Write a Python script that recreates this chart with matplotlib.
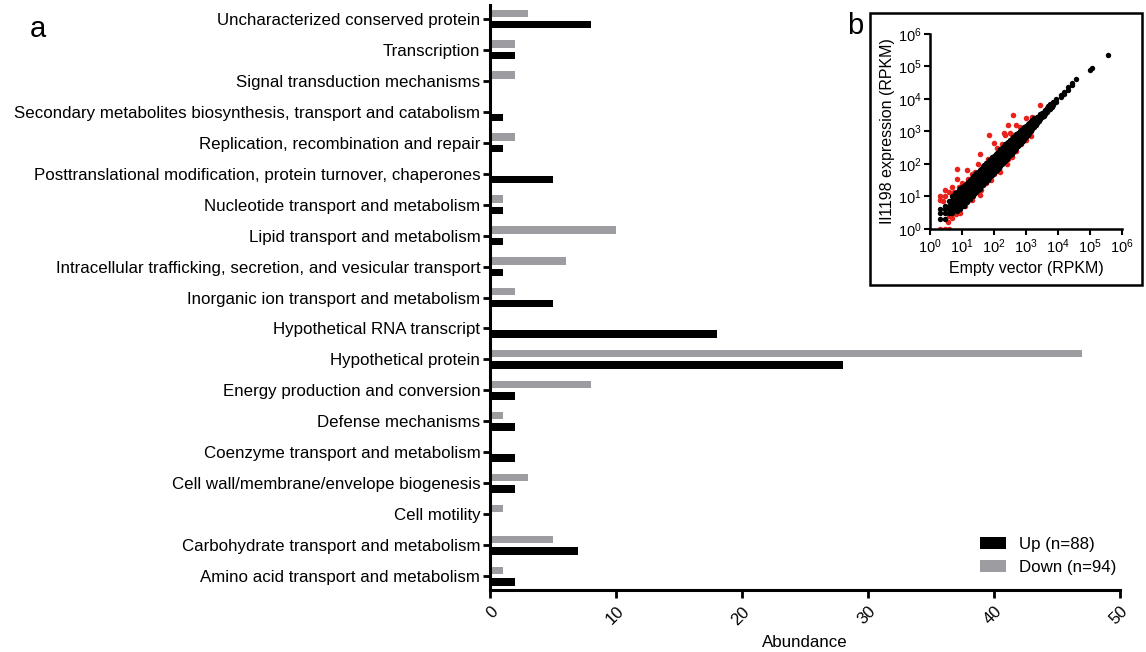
import numpy as np
import matplotlib
matplotlib.use("Agg")
import matplotlib.pyplot as plt
from matplotlib.patches import Rectangle
from matplotlib.ticker import LogLocator, NullLocator

plt.rcParams['font.family'] = ['Liberation Sans', 'DejaVu Sans']
plt.rcParams['mathtext.fontset'] = 'custom'
plt.rcParams['mathtext.rm'] = 'Liberation Sans'

# categories, bottom to top
categories = [
    "Amino acid transport and metabolism",
    "Carbohydrate transport and metabolism",
    "Cell motility",
    "Cell wall/membrane/envelope biogenesis",
    "Coenzyme transport and metabolism",
    "Defense mechanisms",
    "Energy production and conversion",
    "Hypothetical protein",
    "Hypothetical RNA transcript",
    "Inorganic ion transport and metabolism",
    "Intracellular trafficking, secretion, and vesicular transport",
    "Lipid transport and metabolism",
    "Nucleotide transport and metabolism",
    "Posttranslational modification, protein turnover, chaperones",
    "Replication, recombination and repair",
    "Secondary metabolites biosynthesis, transport and catabolism",
    "Signal transduction mechanisms",
    "Transcription",
    "Uncharacterized conserved protein",
]
up_counts = [2, 7, 0, 2, 2, 2, 2, 28, 18, 5, 1, 1, 1, 5, 1, 1, 0, 2, 8]
down_counts = [1, 5, 1, 3, 0, 1, 8, 47, 0, 2, 6, 10, 1, 0, 2, 0, 2, 2, 3]
x_ticks = [0, 10, 20, 30, 40, 50]

# inset scatter (log10 RPKM)
black_rows = [
    (0.30, [0.30, 0.48, 0.60]),
    (0.48, [0.30, 0.48, 0.60, 0.70]),
    (0.60, [0.48, 0.60, 0.70, 0.85]),
    (0.70, [0.48, 0.60, 0.78, 0.90, 1.0]),
    (0.78, [0.60, 0.70, 0.85, 1.0, 1.1]),
    (0.85, [0.55, 0.70, 0.85, 1.0, 1.15]),
    (0.90, [0.65, 0.78, 0.92, 1.06, 1.20]),
    (0.95, [0.62, 0.80, 0.95, 1.10, 1.25]),
    (1.00, [0.70, 0.84, 0.98, 1.12, 1.28]),
    (1.05, [0.72, 0.88, 1.02, 1.18, 1.33]),
    (1.10, [0.80, 0.94, 1.08, 1.22, 1.36]),
    (1.15, [0.82, 0.98, 1.12, 1.28, 1.42]),
    (1.20, [0.90, 1.04, 1.18, 1.32, 1.46]),
    (1.25, [0.93, 1.08, 1.22, 1.38, 1.52]),
    (1.30, [1.00, 1.14, 1.28, 1.42, 1.56]),
    (1.35, [1.03, 1.18, 1.33, 1.48, 1.62]),
    (1.40, [1.10, 1.24, 1.38, 1.52, 1.66]),
    (1.45, [1.13, 1.28, 1.43, 1.58, 1.72]),
    (1.50, [1.20, 1.34, 1.48, 1.62, 1.76]),
    (1.55, [1.24, 1.38, 1.53, 1.68, 1.82]),
    (1.60, [1.31, 1.45, 1.58, 1.72, 1.86]),
    (1.65, [1.35, 1.49, 1.63, 1.78, 1.92]),
    (1.70, [1.41, 1.55, 1.68, 1.82, 1.96]),
    (1.75, [1.45, 1.59, 1.73, 1.88, 2.02]),
    (1.80, [1.52, 1.65, 1.79, 1.92, 2.06]),
    (1.85, [1.56, 1.70, 1.84, 1.98, 2.12]),
    (1.90, [1.62, 1.75, 1.89, 2.02, 2.16]),
    (1.95, [1.67, 1.80, 1.94, 2.08, 2.22]),
    (2.00, [1.72, 1.85, 1.99, 2.12, 2.26]),
    (2.05, [1.77, 1.90, 2.04, 2.18, 2.31]),
    (2.10, [1.83, 1.96, 2.09, 2.22, 2.35]),
    (2.15, [1.88, 2.01, 2.14, 2.28, 2.41]),
    (2.20, [1.94, 2.07, 2.19, 2.32, 2.45]),
    (2.25, [1.99, 2.12, 2.24, 2.37, 2.50]),
    (2.30, [2.05, 2.17, 2.29, 2.42, 2.55]),
    (2.35, [2.10, 2.22, 2.34, 2.47, 2.60]),
    (2.40, [2.16, 2.28, 2.40, 2.52, 2.64]),
    (2.45, [2.21, 2.33, 2.45, 2.57, 2.69]),
    (2.50, [2.27, 2.38, 2.50, 2.62, 2.73]),
    (2.55, [2.32, 2.43, 2.55, 2.67, 2.78]),
    (2.60, [2.38, 2.49, 2.60, 2.71, 2.82]),
    (2.65, [2.43, 2.54, 2.65, 2.76, 2.87]),
    (2.70, [2.49, 2.60, 2.70, 2.81, 2.91]),
    (2.75, [2.55, 2.65, 2.75, 2.86, 2.96]),
    (2.80, [2.60, 2.70, 2.80, 2.90, 3.00]),
    (2.85, [2.66, 2.76, 2.85, 2.95, 3.05]),
    (2.90, [2.72, 2.81, 2.90, 2.99, 3.08]),
    (2.95, [2.78, 2.87, 2.95, 3.04, 3.13]),
    (3.00, [2.84, 2.92, 3.00, 3.09, 3.17]),
    (3.05, [2.90, 2.98, 3.06, 3.14, 3.22]),
    (3.10, [2.96, 3.03, 3.11, 3.19, 3.26]),
    (3.15, [3.02, 3.09, 3.16, 3.24, 3.31]),
    (3.20, [3.08, 3.15, 3.22, 3.29, 3.36]),
    (3.25, [3.13, 3.20, 3.27, 3.34, 3.40]),
    (3.30, [3.19, 3.26, 3.32, 3.39]),
    (3.35, [3.25, 3.31, 3.37, 3.44]),
    (3.40, [3.31, 3.37, 3.43, 3.49]),
    (3.45, [3.37, 3.43, 3.49, 3.55]),
    (3.50, [3.44, 3.50, 3.56]),
    (3.55, [3.49, 3.55, 3.61]),
    (3.60, [3.54, 3.61, 3.67]),
    (3.65, [3.59, 3.66, 3.72]),
    (3.70, [3.65, 3.72, 3.78]),
    (3.75, [3.70, 3.77, 3.84]),
    (3.80, [3.76, 3.84]),
    (3.85, [3.82, 3.90]),
    (3.95, [3.92, 4.00]),
    (4.08, [4.05, 4.12]),
    (4.20, [4.15, 4.22]),
    (4.32, [4.28, 4.36]),
    (4.45, [4.42, 4.50]),
    (4.55, [4.60]),
    (5.00, [4.88]),
    (5.05, [4.95]),
    (5.55, [5.35]),
]
red_x = [0.30, 0.48, 0.60, 0.30, 0.30, 0.48, 0.48, 0.60, 0.70, 0.85, 0.85, 1.00,
         1.15, 1.30, 1.50, 1.55, 1.85, 2.00, 2.10, 2.30, 2.35, 2.45, 2.50, 2.60,
         2.70, 3.00, 3.45, 0.60, 0.70, 0.80, 0.95, 1.10, 1.30, 1.45, 1.55, 1.60,
         1.75, 1.90, 2.00, 2.20, 2.40, 2.55, 2.70, 3.00, 3.15, 0.40, 0.55,
         0.75, 0.90, 1.20, 1.40, 1.65, 1.80, 2.25, 2.55, 2.80, 3.20,
         1.05, 1.35, 1.70, 2.15, 2.45, 2.85]
red_y = [0.00, 0.00, 0.00, 1.00, 0.90, 1.00, 1.20, 1.15, 1.30, 1.55, 1.85, 1.40,
         1.80, 1.70, 2.00, 2.30, 2.90, 2.65, 2.50, 2.95, 2.90, 3.20, 2.95, 3.50,
         3.20, 3.40, 3.80, 0.40, 0.35, 0.45, 0.50, 0.70, 0.90, 1.20, 1.05, 1.20,
         1.40, 1.50, 1.70, 1.75, 2.00, 2.20, 2.40, 2.75, 2.85, 0.85, 0.20,
         1.15, 1.30, 1.55, 1.75, 1.95, 2.15, 2.60, 2.90, 3.15, 3.45,
         0.75, 1.05, 1.40, 1.85, 2.15, 2.60]

black_x = [x for x, ys in black_rows for _ in ys]
black_y = [y for _, ys in black_rows for y in ys]

fig = plt.figure(figsize=(11.46, 6.52), dpi=100)

# ---- panel a: horizontal bars ----
ax = fig.add_axes([0.4276, 0.0951, 0.5497, 0.8972])
pos = np.arange(len(categories))
h = 0.24
ax.barh(pos + 0.185, down_counts, height=h, color='#9d9da1', label='Down (n=94)')
ax.barh(pos - 0.185, up_counts, height=h, color='black', label='Up (n=88)')

ax.set_ylim(-0.45, len(categories) - 0.55)
ax.set_xlim(0, 50)
ax.set_yticks(pos)
ax.set_yticklabels(categories, fontsize=12.2)
ax.set_xticks(x_ticks)
ax.set_xticklabels([str(t) for t in x_ticks], fontsize=12, rotation=45,
                   ha='right', va='top', rotation_mode='anchor')
ax.set_xlabel('Abundance', fontsize=12.2, labelpad=5)

for side in ['top', 'right']:
    ax.spines[side].set_visible(False)
for side in ['left', 'bottom']:
    ax.spines[side].set_linewidth(2.2)
ax.tick_params(axis='y', length=5, width=2, pad=2)
ax.tick_params(axis='x', length=6, width=2, pad=4)

handles, labels = ax.get_legend_handles_labels()
ax.legend(handles[::-1], labels[::-1], loc='lower right', bbox_to_anchor=(1.008, 0.012),
          frameon=False, fontsize=12.2, borderpad=0, handlelength=1.5,
          handleheight=0.7, handletextpad=0.8, labelspacing=0.45)

fig.text(0.033, 0.955, 'a', fontsize=21, ha='center', va='center')
fig.text(0.746, 0.960, 'b', fontsize=21, ha='center', va='center')

# ---- panel b: inset scatter ----
fig.patches.append(Rectangle((0.7592, 0.5629), 0.2373, 0.4172, transform=fig.transFigure,
                             facecolor='white', edgecolor='black', linewidth=1.8, zorder=2))
ins = fig.add_axes([0.8115, 0.6488, 0.1675, 0.2991], zorder=3)
ins.patch.set_alpha(0)
ins.scatter(10 ** np.array(red_x), 10 ** np.array(red_y), s=16, color='#e8231b',
            linewidths=0, zorder=2)
ins.scatter(10 ** np.array(black_x), 10 ** np.array(black_y), s=15, color='black',
            linewidths=0, zorder=3)
ins.set_xscale('log')
ins.set_yscale('log')
ins.set_xlim(1, 1e6)
ins.set_ylim(1, 1e6)
ins.xaxis.set_major_locator(LogLocator(base=10, numticks=10))
ins.yaxis.set_major_locator(LogLocator(base=10, numticks=10))
ins.xaxis.set_minor_locator(NullLocator())
ins.yaxis.set_minor_locator(NullLocator())
for side in ['top', 'right']:
    ins.spines[side].set_visible(False)
for side in ['left', 'bottom']:
    ins.spines[side].set_linewidth(1.8)
ins.tick_params(length=4, width=1.5, labelsize=10.5, pad=2)
ins.set_xlabel('Empty vector (RPKM)', fontsize=11.5, labelpad=4)
ins.set_ylabel('Il1198 expression (RPKM)', fontsize=11.5, labelpad=2)

fig.savefig('out.png', dpi=100)
